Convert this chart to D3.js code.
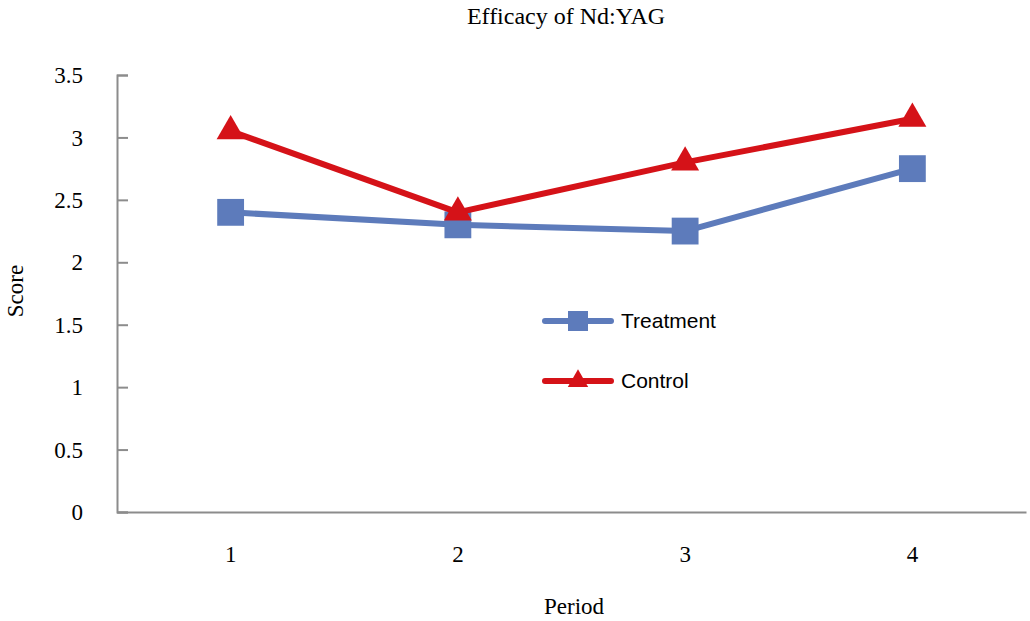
<!DOCTYPE html>
<html>
<head>
<meta charset="utf-8">
<script src="https://d3js.org/d3.v7.min.js"></script>
<style>
  body { margin: 0; background: #fff; }
  text { font-family: "Liberation Serif", "Times New Roman", serif; fill: #000; }
</style>
</head>
<body>
<div id="chart"></div>
<script>
var periods = ['1', '2', '3', '4']
var treatment = [2.4, 2.3, 2.25, 2.75]
var control = [3.05, 2.4, 2.8, 3.15]
var yTicks = [0, 0.5, 1, 1.5, 2, 2.5, 3, 3.5]

var width = 1030, height = 621
var margin = {left: 117, right: 4, top: 75, bottom: 109}

var svg = d3.select('#chart').append('svg')
    .attr('width', width).attr('height', height)

var x = d3.scaleBand()
    .domain(periods)
    .range([margin.left, width - margin.right])

var y = d3.scaleLinear()
    .domain([0, 3.5])
    .range([height - margin.bottom, margin.top])

let axisCol = '#8c8c8c'
let blue = '#5d7bbb'
let red = '#d51218'

// y axis, ticks point inward
let yAxis = svg.append('g')
    .attr('transform', 'translate(' + margin.left + ',0)')
    .call(d3.axisRight(y).tickValues(yTicks).tickSize(11).tickFormat(d => d))
yAxis.select('.domain').attr('stroke', axisCol).attr('stroke-width', 2)
yAxis.selectAll('.tick line').attr('stroke', axisCol).attr('stroke-width', 2)
yAxis.selectAll('.tick text')
    .attr('x', -34).attr('text-anchor', 'end')
    .attr('dy', '0.33em')
    .style('font-size', '23px')

// x axis, no tick marks
let xAxis = svg.append('g')
    .attr('transform', 'translate(0,' + y(0) + ')')
    .call(d3.axisBottom(x).tickSize(0).tickSizeOuter(0))
xAxis.select('.domain').attr('stroke', axisCol).attr('stroke-width', 2)
xAxis.selectAll('.tick text')
    .attr('y', 50).attr('dy', 0)
    .style('font-size', '23px')

var line = d3.line()
    .x((d, i) => x(periods[i]) + x.bandwidth() / 2)
    .y(d => y(d))

function drawSeries(vals, col, shape) {
    svg.append('path')
        .datum(vals)
        .attr('d', line)
        .attr('fill', 'none')
        .attr('stroke', col)
        .attr('stroke-width', 6)
        .attr('stroke-linejoin', 'round')
    svg.selectAll(null)
        .data(vals)
        .join('path')
        .attr('transform', (d, i) => 'translate(' + (x(periods[i]) + x.bandwidth() / 2) + ',' + y(d) + ')')
        .attr('d', d3.symbol().type(shape).size(shape === d3.symbolSquare ? 720 : 340))
        .attr('fill', col)
}

drawSeries(treatment, blue, d3.symbolSquare)
drawSeries(control, red, d3.symbolTriangle)

// legend
let legend = [
    {name: 'Treatment', col: blue, shape: d3.symbolSquare, size: 400, y: 321},
    {name: 'Control', col: red, shape: d3.symbolTriangle, size: 180, y: 381}
]
let lg = svg.append('g')
lg.selectAll('line')
    .data(legend)
    .join('line')
    .attr('x1', 545).attr('x2', 611)
    .attr('y1', d => d.y).attr('y2', d => d.y)
    .attr('stroke', d => d.col)
    .attr('stroke-width', 6)
    .attr('stroke-linecap', 'round')
lg.selectAll('path')
    .data(legend)
    .join('path')
    .attr('transform', d => 'translate(578,' + d.y + ')')
    .attr('d', d => d3.symbol().type(d.shape).size(d.size)())
    .attr('fill', d => d.col)
lg.selectAll('text')
    .data(legend)
    .join('text')
    .attr('x', 621).attr('y', d => d.y)
    .attr('dy', '0.35em')
    .style('font-family', '"Liberation Sans", Arial, sans-serif')
    .style('font-size', '21px')
    .text(d => d.name)

// titles
svg.append('text')
    .attr('x', 566).attr('y', 24)
    .attr('text-anchor', 'middle')
    .style('font-size', '24px')
    .text('Efficacy of Nd:YAG')

svg.append('text')
    .attr('x', 574).attr('y', 614)
    .attr('text-anchor', 'middle')
    .style('font-size', '23px')
    .text('Period')

svg.append('text')
    .attr('transform', 'translate(23,291) rotate(-90)')
    .attr('text-anchor', 'middle')
    .style('font-size', '23px')
    .text('Score')
</script>
</body>
</html>
